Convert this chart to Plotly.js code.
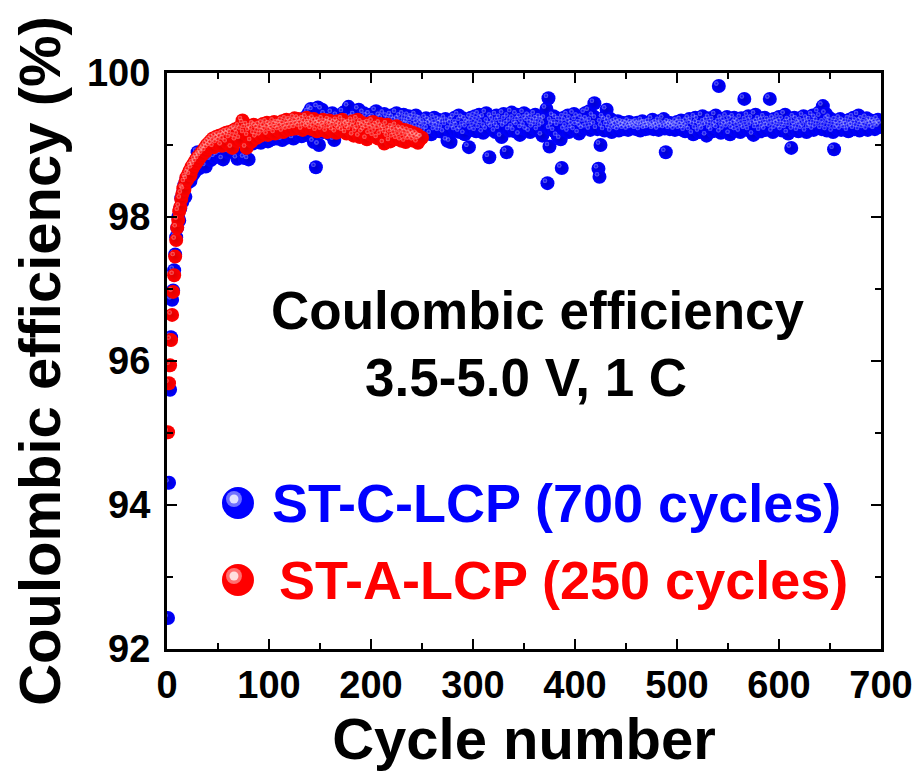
<!DOCTYPE html>
<html>
<head>
<meta charset="utf-8">
<script src="https://cdn.plot.ly/plotly-3.0.1.min.js"></script>
<style>
  html, body { margin: 0; padding: 0; background: #ffffff; }
  #chart { width: 920px; height: 772px; }
</style>
</head>
<body>
<div id="chart"></div>
<script>
// Coulombic efficiency (%) per cycle, ST-C-LCP cell (cycles 1-700)
const stcEfficiency = [
  92.43, 94.31, 95.60, 96.33, 96.85, 96.98, 97.26, 97.48, 97.72, 97.85,
  98.00, 97.95, 98.12, 98.26, 98.21, 98.35, 98.44, 98.28, 98.52, 98.47,
  98.56, 98.60, 98.50, 98.63, 98.58, 98.70, 98.62, 98.74, 98.66, 98.90,
  98.72, 98.68, 98.80, 98.75, 98.86, 98.78, 98.84, 98.70, 98.88, 98.82,
  98.92, 98.85, 98.79, 98.90, 98.87, 98.95, 98.83, 98.91, 98.98, 98.86,
  98.94, 99.00, 98.89, 98.96, 98.80, 99.02, 98.93, 99.05, 98.97, 98.90,
  99.03, 98.99, 99.08, 98.94, 99.01, 99.06, 98.97, 99.10, 98.81, 99.04,
  99.00, 99.09, 98.95, 99.12, 99.05, 98.82, 99.07, 99.14, 99.01, 98.80,
  99.10, 99.06, 99.15, 99.02, 99.11, 99.08, 99.18, 99.04, 99.13, 99.09,
  99.16, 99.03, 99.12, 99.20, 99.07, 99.14, 99.10, 99.22, 99.05, 99.17,
  99.12, 99.19, 99.08, 99.24, 99.15, 99.11, 99.21, 99.09, 99.18, 99.26,
  99.13, 99.20, 99.07, 99.23, 99.16, 99.28, 99.10, 99.19, 99.25, 99.14,
  99.30, 99.17, 99.22, 99.09, 99.27, 99.20, 99.33, 99.15, 99.24, 99.18,
  99.29, 99.12, 99.36, 99.21, 99.26, 99.14, 99.40, 99.23, 99.45, 99.19,
  99.50, 99.27, 99.48, 99.04, 99.31, 98.69, 99.22, 99.52, 99.00, 99.35,
  99.25, 99.49, 99.18, 99.30, 99.42, 99.21, 99.34, 99.26, 99.38, 99.15,
  99.29, 99.44, 99.23, 99.07, 99.33, 99.27, 99.40, 99.19, 99.31, 99.36,
  99.24, 99.30, 99.45, 99.20, 99.35, 99.28, 99.38, 99.53, 99.26, 99.32,
  99.22, 99.37, 99.29, 99.41, 99.18, 99.34, 99.25, 99.49, 99.30, 99.21,
  99.36, 99.27, 99.44, 99.19, 99.33, 99.39, 99.24, 99.31, 99.42, 99.28,
  99.35, 99.22, 99.38, 99.30, 99.47, 99.26, 99.33, 99.21, 99.40, 99.29,
  99.36, 99.24, 99.43, 99.31, 99.27, 99.39, 99.22, 99.34, 99.30, 99.41,
  99.25, 99.37, 99.28, 99.33, 99.44, 99.20, 99.35, 99.29, 99.39, 99.26,
  99.32, 99.42, 99.23, 99.36, 99.28, 99.31, 99.40, 99.24, 99.34, 99.27,
  99.38, 99.22, 99.33, 99.41, 99.25, 99.30, 99.36, 99.21, 99.35, 99.29,
  99.24, 99.31, 99.18, 99.37, 99.27, 99.22, 99.34, 99.29, 99.15, 99.32,
  99.26, 99.38, 99.20, 99.30, 99.25, 99.35, 99.19, 99.28, 99.33, 99.23,
  99.31, 99.17, 99.36, 99.27, 99.06, 99.32, 99.21, 99.04, 99.29, 99.34,
  99.24, 99.38, 99.20, 99.30, 99.26, 99.41, 99.18, 99.33, 99.22, 99.37,
  99.27, 99.15, 99.35, 99.24, 99.31, 98.97, 99.29, 99.38, 99.21, 99.33,
  99.26, 99.40, 99.19, 99.34, 99.28, 99.42, 99.23, 99.36, 99.30, 99.17,
  99.38, 99.25, 99.44, 99.21, 99.32, 98.83, 99.27, 99.39, 99.24, 99.35,
  99.29, 99.18, 99.41, 99.26, 99.33, 99.22, 99.37, 99.11, 99.30, 99.43,
  99.25, 99.35, 98.90, 99.28, 99.39, 99.20, 99.32, 99.45, 99.24, 99.36,
  99.19, 99.30, 99.42, 99.27, 99.34, 99.14, 99.38, 99.23, 99.31, 99.44,
  99.26, 99.36, 99.21, 99.33, 99.40, 99.18, 99.29, 99.37, 99.24, 99.32,
  99.42, 99.27, 99.35, 99.20, 99.31, 99.38, 99.25, 99.13, 99.34, 99.28,
  99.36, 99.50, 98.47, 99.65, 98.98, 99.22, 99.33, 99.27, 99.40, 99.19,
  99.30, 99.37, 99.12, 99.26, 99.34, 99.08, 98.68, 99.29, 99.38, 99.21,
  99.33, 99.25, 99.41, 99.18, 99.31, 99.36, 99.23, 99.28, 99.43, 99.20,
  99.34, 99.27, 99.39, 99.16, 99.30, 99.25, 99.37, 99.22, 99.32, 99.44,
  99.24, 99.35, 99.29, 99.47, 99.21, 99.33, 99.26, 99.40, 99.58, 99.28,
  99.36, 99.22, 98.67, 98.56, 99.00, 99.31, 99.25, 99.38, 99.20, 99.34,
  99.49, 99.27, 99.32, 99.23, 99.36, 99.18, 99.29, 99.25, 99.31, 99.22,
  99.27, 99.33, 99.20, 99.29, 99.24, 99.31, 99.26, 99.22, 99.30, 99.25,
  99.28, 99.21, 99.32, 99.26, 99.23, 99.30, 99.27, 99.24, 99.29, 99.22,
  99.31, 99.25, 99.28, 99.20, 99.27, 99.33, 99.24, 99.29, 99.22, 99.30,
  99.26, 99.23, 99.31, 99.27, 99.25, 99.35, 99.22, 99.28, 99.24, 99.30,
  99.26, 99.21, 99.33, 99.27, 99.24, 99.29, 99.36, 99.23, 98.90, 99.28,
  99.25, 99.31, 99.22, 99.27, 99.30, 99.24, 99.28, 99.21, 99.26, 99.32,
  99.25, 99.29, 99.22, 99.34, 99.27, 99.23, 99.30, 99.19, 99.26, 99.32,
  99.24, 99.36, 99.20, 99.29, 99.33, 99.15, 99.27, 99.38, 99.22, 99.30,
  99.35, 99.18, 99.28, 99.24, 99.40, 99.21, 99.31, 99.26, 99.13, 99.33,
  99.27, 99.37, 99.22, 99.30, 99.19, 99.34, 99.25, 99.41, 99.28, 99.23,
  99.82, 99.31, 99.17, 99.36, 99.26, 99.21, 99.33, 99.28, 99.39, 99.24,
  99.30, 99.15, 99.35, 99.27, 99.22, 99.38, 99.29, 99.20, 99.33, 99.26,
  99.31, 99.18, 99.37, 99.24, 99.29, 99.64, 99.22, 99.34, 99.27, 99.40,
  99.20, 99.32, 99.26, 99.36, 99.14, 99.29, 99.42, 99.23, 99.31, 99.27,
  99.35, 99.19, 99.28, 99.33, 99.24, 99.38, 99.21, 99.30, 99.26, 99.34,
  99.64, 99.25, 99.31, 99.18, 99.36, 99.27, 99.22, 99.33, 99.29, 99.39,
  99.24, 99.31, 99.20, 99.35, 99.27, 99.42, 99.23, 99.30, 99.16, 99.34,
  99.26, 98.96, 99.32, 99.21, 99.38, 99.28, 99.24, 99.35, 99.19, 99.30,
  99.27, 99.33, 99.22, 99.40, 99.25, 99.31, 99.18, 99.36, 99.29, 99.23,
  99.34, 99.26, 99.41, 99.21, 99.30, 99.37, 99.24, 99.33, 99.45, 99.28,
  99.39, 99.22, 99.54, 99.31, 99.26, 99.43, 99.20, 99.35, 99.29, 99.37,
  99.24, 99.32, 99.18, 98.94, 99.27, 99.34, 99.22, 99.30, 99.25, 99.36,
  99.21, 99.29, 99.33, 99.26, 99.23, 99.31, 99.27, 99.19, 99.35, 99.24,
  99.30, 99.26, 99.38, 99.22, 99.29, 99.33, 99.25, 99.41, 99.20, 99.32,
  99.27, 99.35, 99.23, 99.30, 99.26, 99.37, 99.21, 99.31, 99.28, 99.34,
  99.24, 99.29, 99.33, 99.22, 99.30, 99.27, 99.35, 99.25, 99.31, 99.28
];

// Coulombic efficiency (%) per cycle, ST-A-LCP cell (cycles 1-250)
const staEfficiency = [
  95.01, 95.69, 95.94, 96.29, 96.64, 96.96, 97.19, 97.45, 97.68, 97.85,
  97.96, 98.08, 98.14, 98.25, 98.32, 98.40, 98.38, 98.48, 98.55, 98.52,
  98.60, 98.64, 98.58, 98.70, 98.67, 98.74, 98.72, 98.79, 98.76, 98.83,
  98.80, 98.86, 98.84, 98.90, 98.87, 98.93, 98.96, 98.91, 99.00, 98.95,
  99.03, 98.98, 99.06, 99.01, 99.09, 98.97, 99.04, 99.11, 99.02, 99.08,
  99.13, 99.05, 99.10, 98.99, 99.15, 99.07, 99.12, 99.17, 99.03, 99.14,
  99.18, 99.09, 99.16, 98.96, 99.20, 99.11, 99.22, 99.06, 99.19, 99.14,
  99.25, 99.08, 99.21, 99.34, 99.30, 99.16, 99.23, 98.96, 99.27, 99.12,
  99.19, 99.24, 99.05, 99.21, 99.28, 99.15, 99.26, 99.10, 99.23, 99.18,
  99.27, 99.13, 99.22, 99.29, 99.17, 99.25, 99.20, 99.31, 99.14, 99.24,
  99.28, 99.19, 99.26, 99.22, 99.32, 99.16, 99.27, 99.23, 99.30, 99.20,
  99.29, 99.25, 99.33, 99.18, 99.28, 99.24, 99.35, 99.21, 99.30, 99.26,
  99.34, 99.22, 99.31, 99.27, 99.37, 99.23, 99.32, 99.28, 99.36, 99.25,
  99.33, 99.29, 99.21, 99.35, 99.26, 99.31, 99.38, 99.24, 99.30, 99.27,
  99.34, 99.22, 99.29, 99.36, 99.25, 99.32, 99.19, 99.28, 99.33, 99.26,
  99.30, 99.21, 99.35, 99.27, 99.24, 99.31, 99.18, 99.29, 99.34, 99.23,
  99.28, 99.32, 99.20, 99.26, 99.30, 99.17, 99.33, 99.24, 99.29, 99.21,
  99.27, 99.35, 99.19, 99.25, 99.31, 99.16, 99.28, 99.23, 99.30, 99.20,
  99.26, 99.33, 99.13, 99.24, 99.29, 99.18, 99.35, 99.22, 99.11, 99.27,
  99.31, 99.17, 99.25, 99.20, 99.28, 99.08, 99.23, 99.30, 99.15, 99.26,
  99.21, 99.32, 99.12, 99.24, 99.18, 99.27, 99.09, 99.22, 99.29, 99.14,
  99.25, 99.19, 99.02, 99.23, 99.16, 99.28, 99.11, 99.21, 99.05, 99.17,
  99.24, 99.10, 99.20, 99.15, 99.26, 99.08, 99.19, 99.13, 99.22, 99.06,
  99.18, 99.12, 99.21, 99.04, 99.16, 99.10, 99.19, 99.07, 99.14, 99.11,
  99.17, 99.06, 99.13, 99.09, 99.15, 99.03, 99.12, 99.08, 99.10, 99.10
];

const xTickValues = [0, 100, 200, 300, 400, 500, 600, 700];
const yTickValues = [92, 94, 96, 98, 100];

const stcCycles = stcEfficiency.map((_, i) => i + 1);
const staCycles = staEfficiency.map((_, i) => i + 1);

const BLUE = '#0000ff';
const RED = '#ff0000';
const FONT = 'Liberation Sans, Arial, Helvetica, sans-serif';

// plot-area geometry, used to turn a small pixel shift into an axis-range shift
const PLOT_W = 714, PLOT_H = 576;
const X_RANGE = [0, 700], Y_RANGE = [92, 100];
const HL_DX = -2.5, HL_DY = 2.5;   // highlight offset in px (left, up)
const dxData = -HL_DX * (X_RANGE[1] - X_RANGE[0]) / PLOT_W;
const dyData = -HL_DY * (Y_RANGE[1] - Y_RANGE[0]) / PLOT_H;
const X_SHIFTED = [X_RANGE[0] + dxData, X_RANGE[1] + dxData];
const Y_SHIFTED = [Y_RANGE[0] + dyData, Y_RANGE[1] + dyData];

function body(x, y, color, edge, xa, ya) {
  return {
    type: 'scatter', mode: 'markers', x: x, y: y, xaxis: xa, yaxis: ya,
    hoverinfo: 'skip', showlegend: false,
    marker: { size: 14, color: color, line: { width: 0 },
              gradient: { type: 'radial', color: edge } }
  };
}
function highlight(x, y, color, xa, ya) {
  return {
    type: 'scatter', mode: 'markers', x: x, y: y, xaxis: xa, yaxis: ya,
    hoverinfo: 'skip', showlegend: false,
    marker: { size: 4.5, color: '#ffffff', line: { width: 0 }, opacity: 0.42,
              gradient: { type: 'radial', color: color } }
  };
}

const traces = [
  body(stcCycles, stcEfficiency, BLUE, '#0000d0', 'x', 'y'),
  highlight(stcCycles, stcEfficiency, BLUE, 'x2', 'y2'),
  body(staCycles, staEfficiency, RED, '#e00000', 'x3', 'y3'),
  highlight(staCycles, staEfficiency, RED, 'x4', 'y4')
];

const hidden = { visible: false, fixedrange: true };

const axisCommon = {
  showline: true, linecolor: '#000000', linewidth: 3,
  mirror: 'allticks', ticks: 'inside', ticklen: 10, tickwidth: 2.5, tickcolor: '#000000',
  showgrid: false, zeroline: false, fixedrange: true,
  tickfont: { family: FONT, size: 38, color: '#000000', weight: 'bold' }
};

const layout = {
  width: 920, height: 772,
  margin: { l: 167, r: 39, t: 73, b: 123 },
  paper_bgcolor: '#ffffff', plot_bgcolor: '#ffffff',
  showlegend: false,
  xaxis: Object.assign({}, axisCommon, {
    range: X_RANGE, tickmode: 'array', tickvals: xTickValues, ticktext: xTickValues.map(String),
    ticklabelstandoff: 0,
    minor: { dtick: 50, tick0: 0, ticks: 'inside', ticklen: 6, tickwidth: 2, tickcolor: '#000000' },
    title: { text: 'Cycle number', standoff: 8,
             font: { family: FONT, size: 58, color: '#000000', weight: 'bold' } }
  }),
  yaxis: Object.assign({}, axisCommon, {
    range: Y_RANGE, tickmode: 'array', tickvals: yTickValues, ticktext: yTickValues.map(String),
    ticklabelstandoff: 6,
    minor: { dtick: 1, tick0: 92, ticks: 'inside', ticklen: 6, tickwidth: 2, tickcolor: '#000000' },
    title: { text: 'Coulombic efficiency (%)', standoff: 8,
             font: { family: FONT, size: 58, color: '#000000', weight: 'bold' } }
  }),
  xaxis2: Object.assign({ overlaying: 'x', range: X_SHIFTED }, hidden),
  yaxis2: Object.assign({ overlaying: 'y', range: Y_SHIFTED, anchor: 'x2' }, hidden),
  xaxis3: Object.assign({ overlaying: 'x', range: X_RANGE }, hidden),
  yaxis3: Object.assign({ overlaying: 'y', range: Y_RANGE, anchor: 'x3' }, hidden),
  xaxis4: Object.assign({ overlaying: 'x', range: X_SHIFTED }, hidden),
  yaxis4: Object.assign({ overlaying: 'y', range: Y_SHIFTED, anchor: 'x4' }, hidden),
  annotations: [
    { xref: 'paper', yref: 'paper', x: 0.5196, y: 0.587, xanchor: 'center', yanchor: 'middle',
      text: 'Coulombic efficiency', showarrow: false,
      font: { family: FONT, size: 53, color: '#000000', weight: 'bold' } },
    { xref: 'paper', yref: 'paper', x: 0.5028, y: 0.472, xanchor: 'center', yanchor: 'middle',
      text: '3.5-5.0 V, 1 C', showarrow: false,
      font: { family: FONT, size: 53, color: '#000000', weight: 'bold' } },
    { xref: 'paper', yref: 'paper', x: 0.144, y: 0.2535, xanchor: 'left', yanchor: 'middle',
      text: 'ST-C-LCP (700 cycles)', showarrow: false,
      font: { family: FONT, size: 54, color: BLUE, weight: 'bold' } },
    { xref: 'paper', yref: 'paper', x: 0.154, y: 0.1198, xanchor: 'left', yanchor: 'middle',
      text: 'ST-A-LCP (250 cycles)', showarrow: false,
      font: { family: FONT, size: 54, color: RED, weight: 'bold' } }
  ],
  shapes: []
};

// legend keys: shaded spheres built from stacked pixel-sized circles
function sphereKey(yPaper, base, mid, light) {
  const xPaper = 0.0994;
  const circ = (r, dx, dy, fill) => ({
    type: 'circle', xref: 'paper', yref: 'paper', layer: 'above',
    xsizemode: 'pixel', ysizemode: 'pixel', xanchor: xPaper, yanchor: yPaper,
    x0: dx - r, x1: dx + r, y0: dy - r, y1: dy + r,
    fillcolor: fill, line: { width: 0 }
  });
  return [
    circ(16, 0, 0, base),
    circ(8, -4, 4, mid),
    circ(4.5, -4, 4, light)
  ];
}
layout.shapes = layout.shapes
  .concat(sphereKey(0.2535, BLUE, '#7070ff', '#e0e0ff'))
  .concat(sphereKey(0.1198, RED, '#ff7070', '#ffe0e0'));

Plotly.newPlot('chart', traces, layout, { staticPlot: true, displayModeBar: false });
</script>
</body>
</html>
